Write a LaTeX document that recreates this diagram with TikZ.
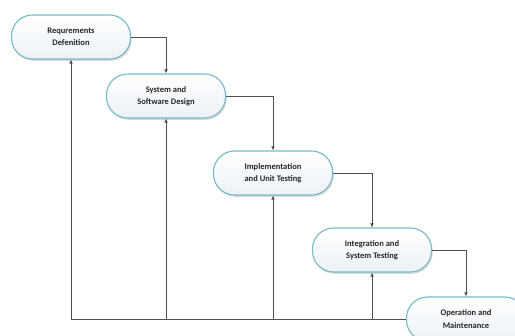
\documentclass[tikz,border=0pt]{standalone}
\usepackage{fontspec}
\setmainfont{Carlito}
\usetikzlibrary{arrows.meta,shadows}

\definecolor{phaseline}{RGB}{118,186,200}
\definecolor{phasefill}{RGB}{236,242,248}
\definecolor{flowgray}{RGB}{80,80,80}

\tikzset{
  phase/.style={draw=phaseline, line width=1.1pt, rounded corners=21pt,
    top color=white, bottom color=phasefill,
    minimum width=119pt, minimum height=44pt, align=center,
    font=\bfseries\fontsize{8.5}{12.5}\selectfont, text=black!85,
    drop shadow={shadow xshift=1.2pt, shadow yshift=-1.8pt, opacity=0.3, fill=gray}},
  flow/.style={draw=flowgray, line width=0.6pt, -{Latex[length=4pt,width=3.5pt]}}
}

\begin{document}
\begin{tikzpicture}[x=1pt,y=-1pt]
\useasboundingbox[fill=white] (0,0) rectangle (515,336);
\clip (0,0) rectangle (515,336);

% waterfall phases
\node[phase] (req) at (71,37)   {Requrements\\Defenition};
\node[phase] (sys) at (166,96)  {System and\\Software Design};
\node[phase] (imp) at (273,173) {Implementation\\and Unit Testing};
\node[phase] (int) at (372,250) {Integration and\\System Testing};
\node[phase] (ops) at (466,319) {Operation and\\Maintenance};

% downward flow
\draw[flow] (req.east) -| (sys.north);
\draw[flow] (sys.east) -| (imp.north);
\draw[flow] (imp.east) -| (int.north);
\draw[flow] (int.east) -| (ops.north);

% feedback
\draw[flow] (ops.west) -| (req.south);
\draw[flow] (sys.south |- ops.west) -- (sys.south);
\draw[flow] (imp.south |- ops.west) -- (imp.south);
\draw[flow] (int.south |- ops.west) -- (int.south);
\end{tikzpicture}
\end{document}
